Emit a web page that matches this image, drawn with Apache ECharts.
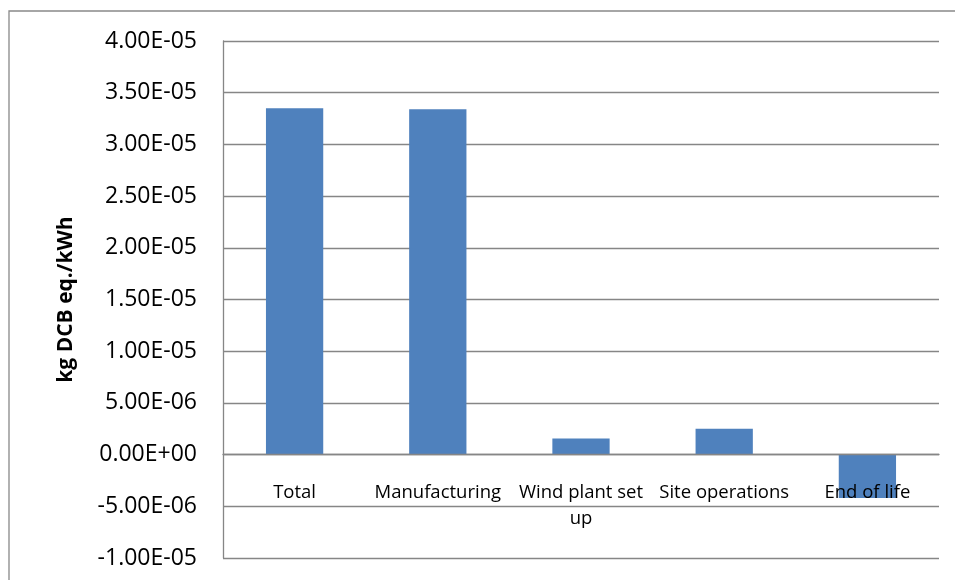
<html lang="en">
  <head>
    <meta charset="UTF-8" />
    <title>kg DCB eq./kWh</title>
    <style>
      html, body { margin: 0; padding: 0; background: #fff; }
    </style>
  </head>
  <body>
    <div id="main" style="width: 955px; height: 580px"></div>

    <script src="https://cdn.jsdelivr.net/npm/echarts@6/dist/echarts.min.js"></script>
    <script>
      // data
      const categories = ['Total', 'Manufacturing', 'Wind plant set up', 'Site operations', 'End of life']
      const values = [3.35e-5, 3.34e-5, 1.55e-6, 2.5e-6, -4.2e-6]

      // Excel-like scientific format: 4.00E-05
      function sci(v) {
        let [m, e] = v.toExponential(2).split('e')
        let sign = e[0] === '-' ? '-' : '+'
        let digits = e.replace(/[+-]/, '').padStart(2, '0')
        return m + 'E' + sign + digits
      }

      let mCharts = echarts.init(document.querySelector('#main'))
      let option = {
        animation: false,
        textStyle: { fontFamily: 'Open Sans' },
        graphic: [
          {
            type: 'rect',
            shape: { x: 9, y: 11, width: 970, height: 600 },
            style: { fill: 'none', stroke: '#898989', lineWidth: 1.3 }
          }
        ],
        grid: { left: 223, right: 16, top: 41, bottom: 22, containLabel: false, outerBoundsMode: 'none' },
        xAxis: {
          type: 'category',
          data: categories,
          z: 5, // labels drawn over the bars, like the End of life one
          axisLine: { onZero: true, lineStyle: { color: '#868686', width: 1.3 } },
          axisTick: { show: false },
          axisLabel: {
            color: '#000',
            fontSize: 18.5,
            lineHeight: 26,
            // labels sit just under the zero line, not at the grid bottom
            margin: -78,
            interval: 0,
            hideOverlap: false,
            formatter: (v) => v.replace(' set up', ' set\nup')
          }
        },
        yAxis: {
          type: 'value',
          min: -1e-5,
          max: 4e-5,
          interval: 5e-6,
          name: 'kg DCB eq./kWh',
          nameLocation: 'middle',
          nameGap: 146,
          nameTextStyle: { color: '#000', fontSize: 21, fontWeight: 'bold' },
          axisLine: { show: true, lineStyle: { color: '#868686', width: 1.3 } },
          axisTick: { show: false },
          splitLine: { lineStyle: { color: '#868686', width: 1.3 } },
          axisLabel: {
            color: '#000',
            fontSize: 23,
            margin: 26,
            formatter: sci
          }
        },
        series: [
          {
            type: 'bar',
            data: values,
            barWidth: '40%',
            itemStyle: { color: '#4F81BD' }
          }
        ]
      }
      mCharts.setOption(option)
    </script>
  </body>
</html>
